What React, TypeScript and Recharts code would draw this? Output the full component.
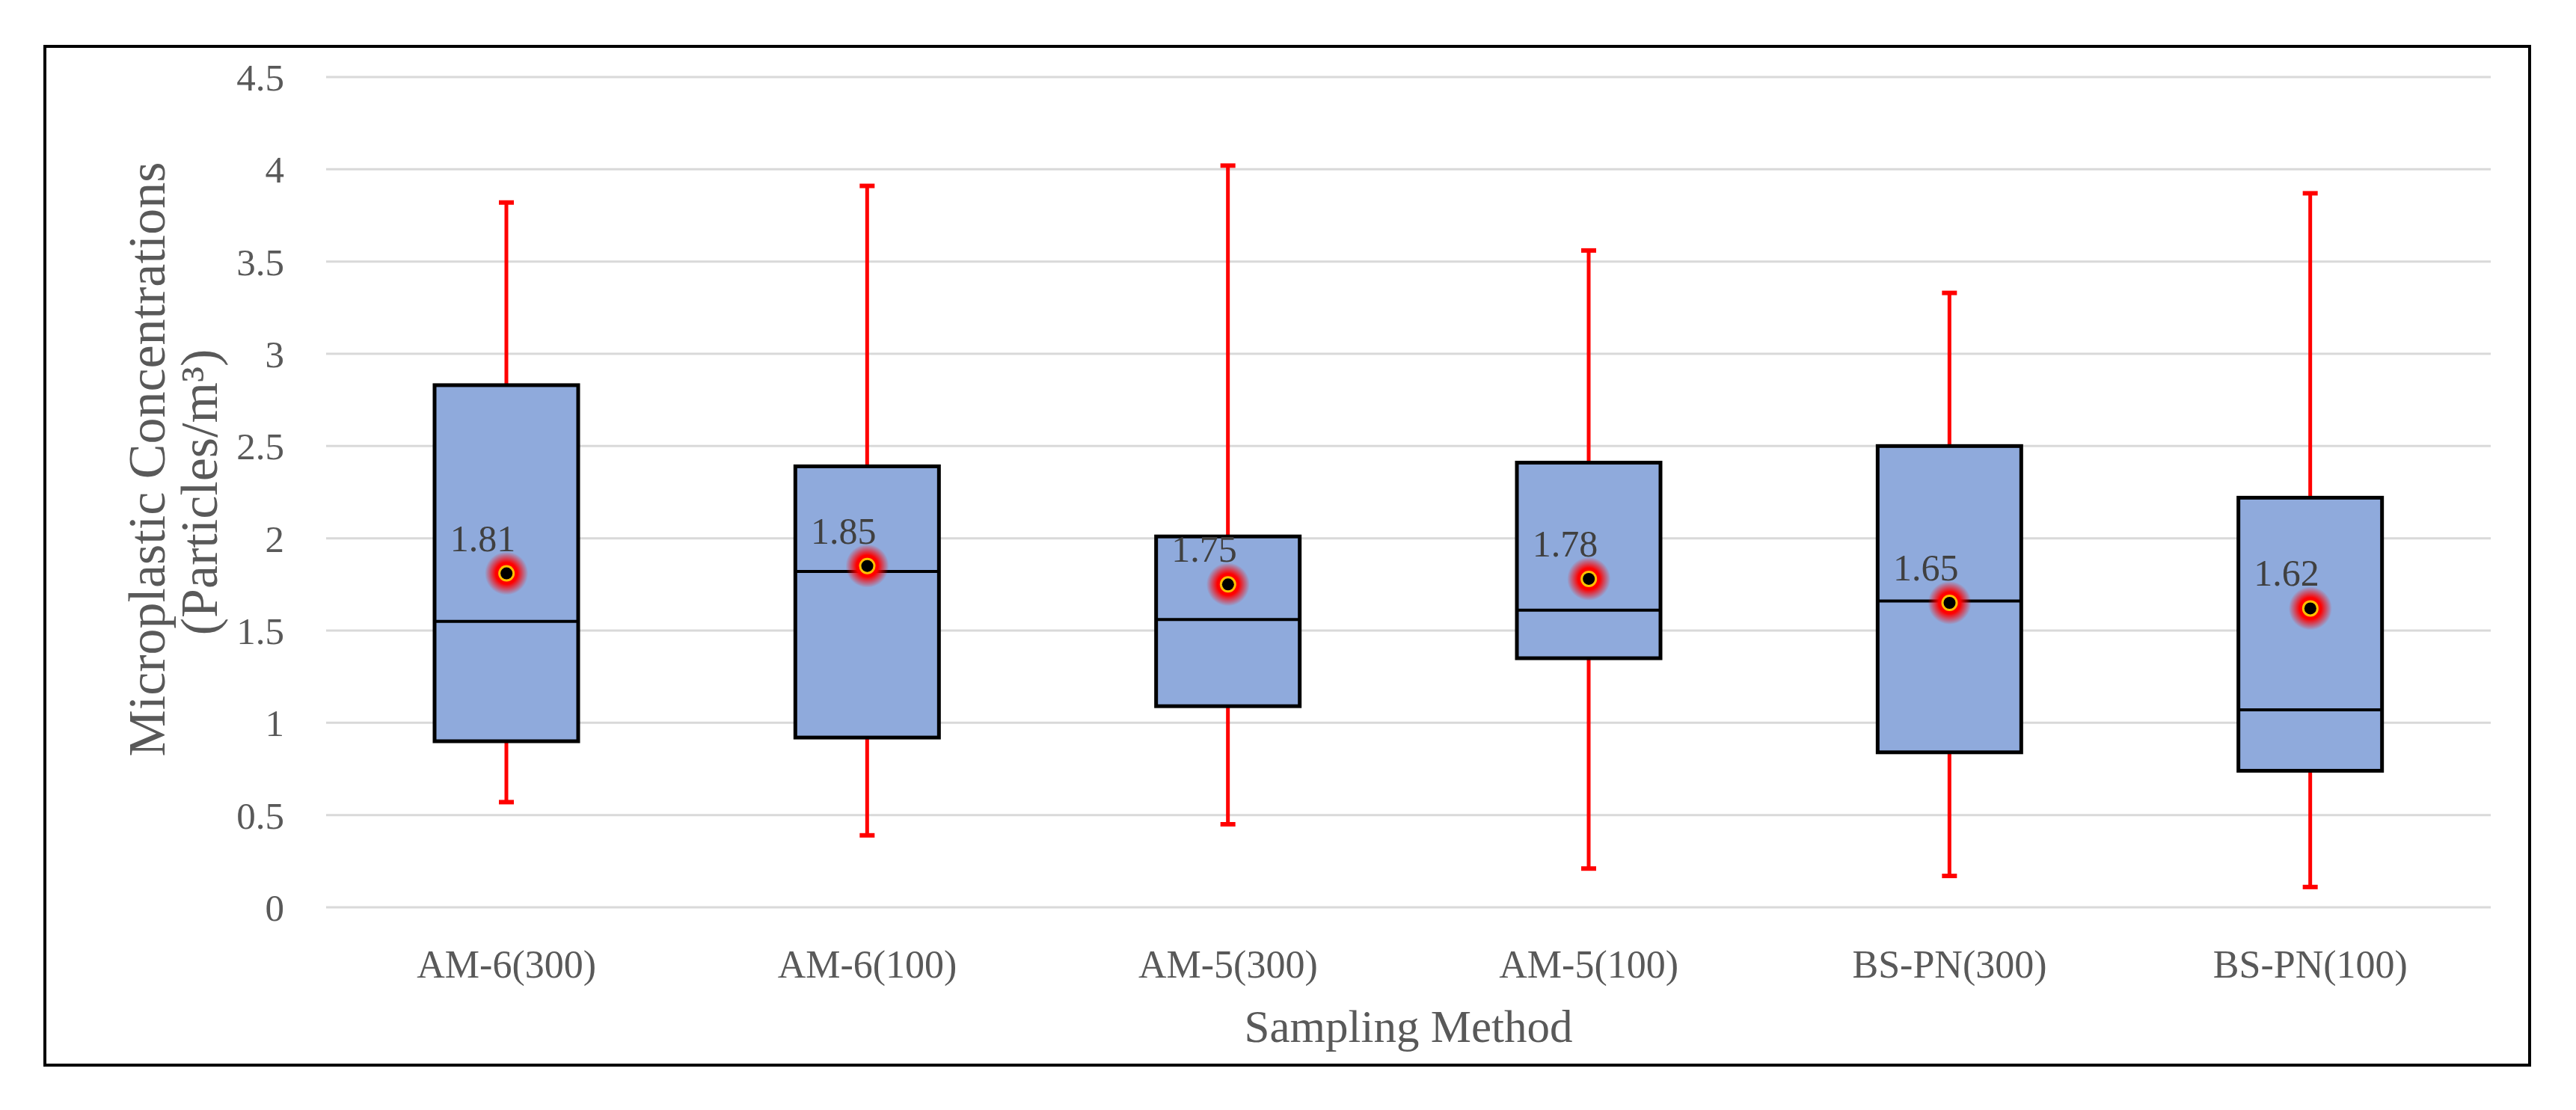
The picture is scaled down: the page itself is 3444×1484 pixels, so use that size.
import React from 'react';
import { ComposedChart, Bar, Line, XAxis, YAxis, CartesianGrid, Label } from 'recharts';

const categories = ['AM-6(300)', 'AM-6(100)', 'AM-5(300)', 'AM-5(100)', 'BS-PN(300)', 'BS-PN(100)'];
const minValues = [0.57, 0.39, 0.45, 0.21, 0.17, 0.11];
const q1Values = [0.9, 0.92, 1.09, 1.35, 0.84, 0.74];
const medianValues = [1.55, 1.82, 1.56, 1.61, 1.66, 1.07];
const q3Values = [2.83, 2.39, 2.01, 2.41, 2.5, 2.22];
const maxValues = [3.82, 3.91, 4.02, 3.56, 3.33, 3.87];
const meanValues = [1.81, 1.85, 1.75, 1.78, 1.65, 1.62];
const yTicks = [0, 0.5, 1, 1.5, 2, 2.5, 3, 3.5, 4, 4.5];

const xTitle = 'Sampling Method';
const yTitleLine1 = 'Microplastic Concentrations';
const yTitleLine2 = '(Particles/m³)';

const data = categories.map((name, i) => ({
  name,
  min: minValues[i],
  q1: q1Values[i],
  median: medianValues[i],
  q3: q3Values[i],
  max: maxValues[i],
  mean: meanValues[i],
  box: [q1Values[i], q3Values[i]],
}));

const FONT = "'Liberation Serif', 'Times New Roman', serif";

const BoxShape = (props: any) => {
  const { x, width, payload } = props;
  const y = Math.min(props.y, props.y + props.height);
  const height = Math.abs(props.height);
  const ppu = height / (payload.q3 - payload.q1);
  const cx = x + width / 2;
  const yMax = y - (payload.max - payload.q3) * ppu;
  const yMin = y + height + (payload.q1 - payload.min) * ppu;
  const yMed = y + (payload.q3 - payload.median) * ppu;
  return (
    <g>
      <line x1={cx} x2={cx} y1={yMax} y2={y} stroke="#FF0000" strokeWidth={5} />
      <line x1={cx} x2={cx} y1={y + height} y2={yMin} stroke="#FF0000" strokeWidth={5} />
      <line x1={cx - 10} x2={cx + 10} y1={yMax} y2={yMax} stroke="#FF0000" strokeWidth={6} />
      <line x1={cx - 10} x2={cx + 10} y1={yMin} y2={yMin} stroke="#FF0000" strokeWidth={6} />
      <rect x={x} y={y} width={width} height={height} fill="#8FAADC" stroke="#000000" strokeWidth={5} />
      <line x1={x} x2={x + width} y1={yMed} y2={yMed} stroke="#000000" strokeWidth={4} />
    </g>
  );
};

const MeanDot = (props: any) => {
  const { cx, cy, index } = props;
  if (cx == null || cy == null) return null;
  const id = `glow-${index}`;
  return (
    <g key={id}>
      <defs>
        <radialGradient id={id}>
          <stop offset="0%" stopColor="#FF0000" stopOpacity={1} />
          <stop offset="50%" stopColor="#FF0000" stopOpacity={1} />
          <stop offset="100%" stopColor="#FF0000" stopOpacity={0} />
        </radialGradient>
      </defs>
      <circle cx={cx} cy={cy} r={29} fill={`url(#${id})`} />
      <circle cx={cx} cy={cy} r={11} fill="#FFC000" />
      <circle cx={cx} cy={cy} r={8} fill="#000000" />
    </g>
  );
};

const MeanLabel = (props: any) => {
  const { x, y, value, index } = props;
  if (x == null || y == null) return null;
  return (
    <text
      key={`lbl-${index}`}
      x={x + 12}
      y={y - 30}
      textAnchor="end"
      fontFamily={FONT}
      fontSize={50}
      fill="#404040"
    >
      {Number(value).toFixed(2)}
    </text>
  );
};

export default function App() {
  return (
    <div style={{ position: 'absolute', left: 0, top: 0, width: 3444, height: 1484, background: '#ffffff' }}>
      <div
        style={{
          position: 'absolute',
          left: 58,
          top: 60,
          width: 3326,
          height: 1366,
          border: '4px solid #000000',
          boxSizing: 'border-box',
        }}
      />
      <div style={{ position: 'absolute', left: 0, top: 0 }}>
        <ComposedChart
          width={3444}
          height={1484}
          data={data}
          margin={{ top: 103, right: 114, bottom: 71, left: 236 }}
        >
          <CartesianGrid vertical={false} stroke="#D9D9D9" strokeWidth={3} />
          <XAxis
            dataKey="name"
            axisLine={false}
            tickLine={false}
            tickSize={0}
            tickMargin={57}
            height={200}
            interval={0}
            tick={{ fontFamily: FONT, fontSize: 52, fill: '#595959' }}
          >
            <Label
              content={(p: any) => {
                const vb = p.viewBox;
                return (
                  <text
                    x={vb.x + vb.width / 2}
                    y={vb.y + 180}
                    textAnchor="middle"
                    fontFamily={FONT}
                    fontSize={61}
                    fill="#595959"
                  >
                    {xTitle}
                  </text>
                );
              }}
            />
          </XAxis>
          <YAxis
            domain={[0, 4.5]}
            ticks={yTicks}
            axisLine={false}
            tickLine={false}
            tickSize={0}
            tickMargin={56}
            width={200}
            tick={{ fontFamily: FONT, fontSize: 51, fill: '#595959' }}
          >
            <Label
              content={(p: any) => {
                const vb = p.viewBox;
                const cy = vb.y + vb.height / 2;
                return (
                  <g>
                    <text
                      transform={`translate(220, ${cy - 44}) rotate(-90)`}
                      textAnchor="middle"
                      fontFamily={FONT}
                      fontSize={70}
                      fill="#595959"
                    >
                      {yTitleLine1}
                    </text>
                    <text
                      transform={`translate(290, ${cy}) rotate(-90)`}
                      textAnchor="middle"
                      fontFamily={FONT}
                      fontSize={70}
                      fill="#595959"
                    >
                      {yTitleLine2}
                    </text>
                  </g>
                );
              }}
            />
          </YAxis>
          <Bar dataKey="box" barSize={192} shape={<BoxShape />} isAnimationActive={false} />
          <Line
            dataKey="mean"
            stroke="none"
            dot={<MeanDot />}
            activeDot={false}
            label={<MeanLabel />}
            isAnimationActive={false}
          />
        </ComposedChart>
      </div>
    </div>
  );
}
